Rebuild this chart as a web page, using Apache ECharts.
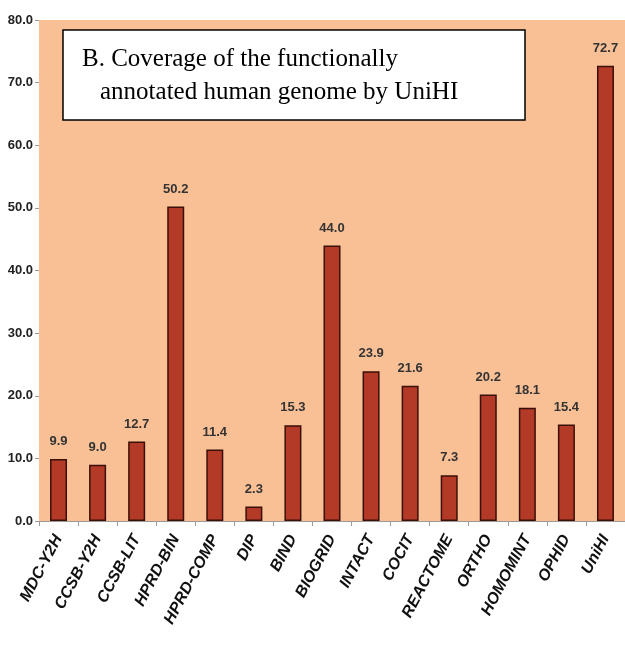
<!DOCTYPE html>
<html>
<head>
<meta charset="utf-8">
<script src="https://cdn.jsdelivr.net/npm/echarts@6/dist/echarts.min.js"></script>
<style>
html,body{margin:0;padding:0;background:#fff;}
#chart{width:625px;height:645px;}
</style>
</head>
<body>
<div id="chart"></div>
<script>
const categories = ['MDC-Y2H','CCSB-Y2H','CCSB-LIT','HPRD-BIN','HPRD-COMP','DIP','BIND','BIOGRID','INTACT','COCIT','REACTOME','ORTHO','HOMOMINT','OPHID','UniHI'];
const coverage = [9.9, 9.0, 12.7, 50.2, 11.4, 2.3, 15.3, 44.0, 23.9, 21.6, 7.3, 20.2, 18.1, 15.4, 72.7];
const titleLines = ['B. Coverage of the functionally', 'annotated human genome by UniHI'];

const chart = echarts.init(document.getElementById('chart'), null, {renderer:'canvas'});
const narrow = 'Liberation Sans Narrow, Arial Narrow, Liberation Sans, sans-serif';
chart.setOption({
  animation:false,
  backgroundColor:'#ffffff',
  grid:{left:39, top:20, width:591, height:501, show:true, backgroundColor:'#f9bf95', borderWidth:0},
  xAxis:{
    type:'category', data:categories,
    axisLine:{show:true, lineStyle:{color:'#9a9a9a', width:1}},
    axisTick:{show:true, length:5, lineStyle:{color:'#9a9a9a'}},
    axisLabel:{rotate:62, interval:0, margin:15, fontFamily:'Liberation Sans, Arial, sans-serif', fontStyle:'italic', fontWeight:'bold', fontSize:16, color:'#111'}
  },
  yAxis:{
    type:'value', min:0, max:80, interval:10,
    splitLine:{show:false},
    axisLine:{show:false},
    axisTick:{show:true, length:4, lineStyle:{color:'#9a9a9a'}},
    axisLabel:{margin:6, fontFamily:narrow, fontWeight:'bold', fontSize:13, color:'#222', formatter:v=>v.toFixed(1)}
  },
  series:[{
    type:'bar', data:coverage, barWidth:17,
    itemStyle:{color:'#b33a26', borderColor:'#3a0f08', borderWidth:1.5},
    label:{show:true, position:'top', distance:11, fontFamily:narrow, fontWeight:'bold', fontSize:13, color:'#333', formatter:p=>p.value.toFixed(1)}
  }],
  graphic:[
    {type:'rect', shape:{x:63, y:30, width:462, height:90}, style:{fill:'#ffffff', stroke:'#000', lineWidth:1.5}, z:100},
    {type:'text', left:82, top:47, style:{text:titleLines[0], font:'25px "Liberation Serif", "Times New Roman", serif', fill:'#000'}, z:101},
    {type:'text', left:100, top:80, style:{text:titleLines[1], font:'25px "Liberation Serif", "Times New Roman", serif', fill:'#000'}, z:101}
  ]
});
</script>
</body>
</html>
